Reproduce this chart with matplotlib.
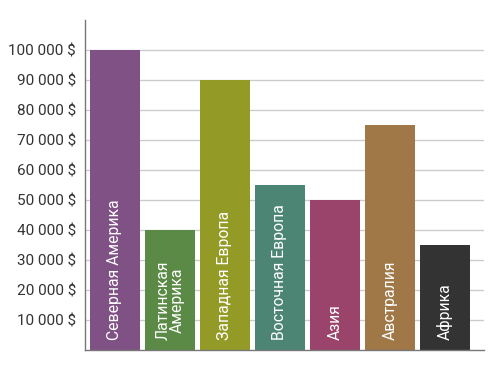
import matplotlib
matplotlib.use('Agg')
import matplotlib.pyplot as plt
from matplotlib.ticker import FuncFormatter

regions = ['Северная Америка', 'Латинская\nАмерика', 'Западная Европа',
           'Восточная Европа', 'Азия', 'Австралия', 'Африка']
sales = [100000, 40000, 90000, 55000, 50000, 75000, 35000]
colors = ['#7f5184', '#5a8a45', '#949a26', '#4c8573', '#9b446b', '#a07847', '#333333']
yticks = [10000, 20000, 30000, 40000, 50000, 60000, 70000, 80000, 90000, 100000]

plt.rcParams['font.family'] = ['Roboto', 'DejaVu Sans']

fig = plt.figure(figsize=(5, 3.75), dpi=100)
ax = fig.add_axes([0.17, 0.0667, 0.798, 0.88])

x = list(range(len(regions)))
ax.bar(x, sales, width=0.91, color=colors, zorder=2)

for xi, label in zip(x, regions):
    ax.text(xi, 3300, label, rotation=90, ha='center', va='bottom',
            color='white', fontsize=11.3, linespacing=0.92, zorder=3)

ax.set_xlim(-0.545, 6.71)
ax.set_ylim(0, 110000)
ax.set_xticks([])
ax.set_yticks(yticks)
ax.yaxis.set_major_formatter(FuncFormatter(lambda v, p: f'{int(v):,} $'.replace(',', ' ')))
ax.tick_params(axis='y', length=0, pad=6.5, labelsize=11, labelcolor='#333333')
ax.grid(True, axis='y', color='#cccccc', linewidth=1, zorder=1)

for side in ['top', 'right']:
    ax.spines[side].set_visible(False)
for side in ['left', 'bottom']:
    ax.spines[side].set_color('#777777')
    ax.spines[side].set_linewidth(1)

plt.savefig('out.png', dpi=100)
